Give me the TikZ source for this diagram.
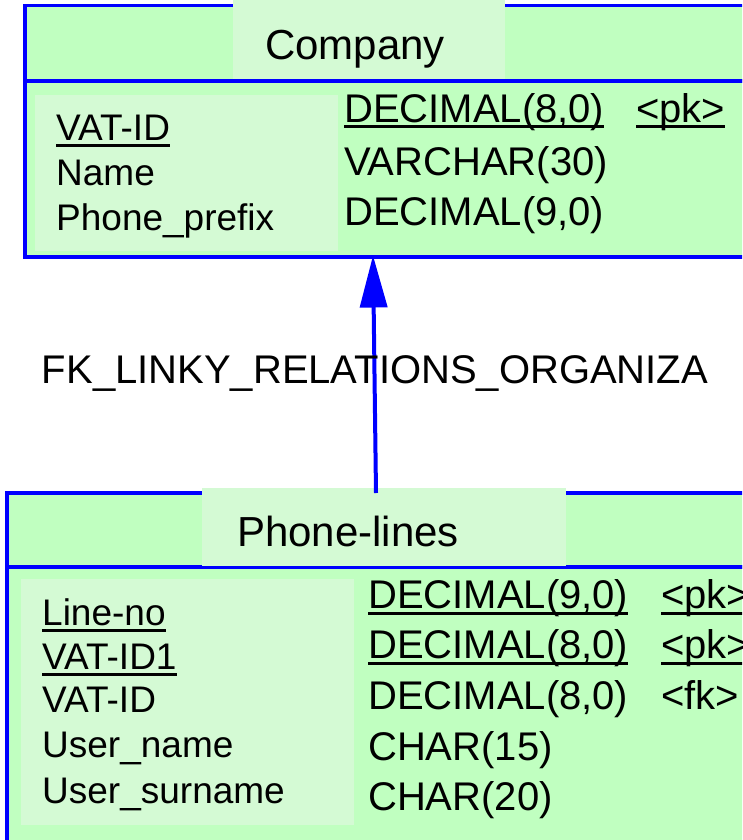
\documentclass[tikz,border=0pt]{standalone}
\usepackage{fontspec}
\setmainfont{Liberation Sans}
\usetikzlibrary{arrows.meta}
\definecolor{tablefill}{RGB}{192,255,192}
\definecolor{cellfill}{RGB}{212,250,212}
\definecolor{edgeblue}{RGB}{0,0,255}
% underlined key column entry
\newcommand\keyline[1]{\setbox0\hbox{#1}\rlap{\rule[-6.5pt]{\wd0}{3pt}}\box0}
\tikzset{
  tablepart/.style={draw=edgeblue, fill=tablefill, line width=3.5pt, inner sep=0pt, outer sep=0pt},
  cell/.style={fill=cellfill, draw=none, inner sep=0pt, outer sep=0pt},
  titletext/.style={inner sep=0pt, anchor=base west, font=\fontsize{42}{50}\selectfont},
  nametext/.style={inner sep=0pt, anchor=base west, font=\fontsize{37}{44}\selectfont},
  typetext/.style={inner sep=0pt, anchor=base west, font=\fontsize{40}{48}\selectfont},
  fklabel/.style={inner sep=0pt, anchor=base, font=\fontsize{40}{48}\selectfont},
  fk/.style={draw=edgeblue, line width=4pt, -{Triangle[length=52pt,width=27pt]}}
}
\begin{document}
\begin{tikzpicture}[x=1pt,y=-1pt]
\clip (0,0) rectangle (742,840);
\fill[white] (0,0) rectangle (742,840);

% ---- Company ----
\node[tablepart, minimum width=745pt, minimum height=75.5pt] (companyhead) at (397.5,43.25) {};
\node[tablepart, minimum width=745pt, minimum height=176pt] (companybody) at (397.5,169) {};
\node[cell, minimum width=272pt, minimum height=79.3pt] (companytitlecell) at (369,39.65) {};
\node[cell, minimum width=303pt, minimum height=156pt] (companynamecell) at (186.5,173) {};
\node[titletext] (companytitle) at (265,60) {Company};
\node[nametext] (c1n) at (56,140) {\keyline{VAT-ID}};
\node[nametext] (c2n) at (56,185) {Name};
\node[nametext] (c3n) at (56,230) {Phone\_prefix};
\node[typetext] (c1t) at (344,122) {\keyline{DECIMAL(8,0)}};
\node[typetext] (c2t) at (344,175) {VARCHAR(30)};
\node[typetext] (c3t) at (344,225) {DECIMAL(9,0)};
\node[typetext] (c1k) at (636,122) {\keyline{<pk>}};

% ---- Phone-lines ----
\node[tablepart, minimum width=763pt, minimum height=74pt] (phonehead) at (388.5,530) {};
\node[tablepart, minimum width=763pt, minimum height=333pt] (phonebody) at (388.5,733.5) {};
\node[cell, minimum width=364pt, minimum height=77.5pt] (phonetitlecell) at (384,526.75) {};
\node[cell, minimum width=333pt, minimum height=246pt] (phonenamecell) at (187.5,702) {};
\node[titletext] (phonetitle) at (237,546) {Phone-lines};
\node[nametext] (p1n) at (42,625) {\keyline{Line-no}};
\node[nametext] (p2n) at (42,669.3) {\keyline{VAT-ID1}};
\node[nametext] (p3n) at (42,712.7) {VAT-ID};
\node[nametext] (p4n) at (42,757.3) {User\_name};
\node[nametext] (p5n) at (42,803.3) {User\_surname};
\node[typetext] (p1t) at (368,608.3) {\keyline{DECIMAL(9,0)}};
\node[typetext] (p2t) at (368,658.3) {\keyline{DECIMAL(8,0)}};
\node[typetext] (p3t) at (368,709.3) {DECIMAL(8,0)};
\node[typetext] (p4t) at (368,760) {CHAR(15)};
\node[typetext] (p5t) at (368,810.7) {CHAR(20)};
\node[typetext] (p1k) at (661,608.3) {\keyline{<pk>}};
\node[typetext] (p2k) at (661,658.3) {\keyline{<pk>}};
\node[typetext] (p3k) at (661,709.3) {<fk>};

% ---- foreign key reference ----
\draw[fk] ([xshift=-12.5pt]phonehead.north) -- ([xshift=-24.5pt,yshift=1.5pt]companybody.south);
\node[fklabel] (fkname) at (375,383) {FK\_LINKY\_RELATIONS\_ORGANIZA};
\end{tikzpicture}
\end{document}
